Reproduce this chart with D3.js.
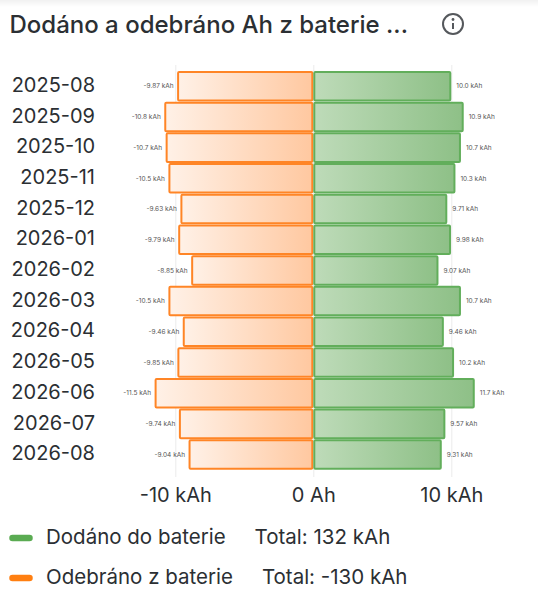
<!DOCTYPE html>
<html>
<head>
<meta charset="utf-8">
<script src="https://cdn.jsdelivr.net/npm/d3@7"></script>
<style>
  html, body { margin: 0; padding: 0; background: #fff; }
  svg { display: block; font-family: Inter, "Noto Sans", sans-serif; }
</style>
</head>
<body>
<script>
const months = ["2025-08","2025-09","2025-10","2025-11","2025-12","2026-01","2026-02","2026-03","2026-04","2026-05","2026-06","2026-07","2026-08"];
const charged = [10.0,10.9,10.7,10.3,9.71,9.98,9.07,10.7,9.46,10.2,11.7,9.57,9.31];
const discharged = [-9.87,-10.8,-10.7,-10.5,-9.63,-9.79,-8.85,-10.5,-9.46,-9.85,-11.5,-9.74,-9.04];
const axisTicks = [-10,0,10];
const legendNames = ["Dodáno do baterie","Odebráno z baterie"];
const legendTotals = ["Total: 132 kAh","Total: -130 kAh"];

const width = 538, height = 600;
const textColor = "#2b2f33";

var svg = d3.select("body").append("svg")
    .attr("width", width)
    .attr("height", height);

var defs = svg.append("defs");

function addGradient(id, stops) {
  var g = defs.append("linearGradient").attr("id", id);
  stops.forEach(function(s, i) {
    g.append("stop").attr("offset", i * 100 + "%").attr("stop-color", s);
  });
}
addGradient("orangeFill", ["#fff1e7", "#ffc8a0"]);
addGradient("greenFill", ["#bedbb9", "#8ec087"]);

// faint shadow at the very top of the card
var shadow = defs.append("linearGradient").attr("id", "topShadow")
    .attr("x1", 0).attr("x2", 0).attr("y1", 0).attr("y2", 1);
shadow.append("stop").attr("offset", "0%").attr("stop-color", "#f1f1f1");
shadow.append("stop").attr("offset", "100%").attr("stop-color", "#fff");
svg.append("rect").attr("width", width).attr("height", 7).attr("fill", "url(#topShadow)");

// title + info icon
svg.append("text")
    .attr("x", 9.5).attr("y", 33)
    .attr("font-size", 24).attr("font-weight", 500)
    .attr("fill", textColor)
    .text("Dodáno a odebráno Ah z baterie ...");

var info = svg.append("g").attr("transform", "translate(453,24)");
info.append("circle").attr("r", 10).attr("fill", "none").attr("stroke", "#55585c").attr("stroke-width", 2);
info.append("circle").attr("cy", -4.5).attr("r", 1.4).attr("fill", "#55585c");
info.append("line").attr("y1", -1).attr("y2", 5).attr("stroke", "#55585c").attr("stroke-width", 2);

// scales
var x = d3.scaleLinear().domain([-10, 10]).range([175.3, 451.3]);
var y = d3.scaleBand().domain(months).range([69.8, 471]).padding(0.07);

// grid + x axis
var xAxis = svg.append("g")
    .attr("transform", "translate(0,477)")
    .call(d3.axisBottom(x)
      .tickValues(axisTicks)
      .tickSize(-412)
      .tickPadding(10.5)
      .tickFormat(function(d) { return d === 0 ? "0 Ah" : d + " kAh"; }));
xAxis.select(".domain").remove();
xAxis.selectAll(".tick line").attr("stroke", "#ececec");
xAxis.selectAll("text")
    .attr("font-size", 20).attr("fill", textColor).attr("font-family", "Inter");

// months
var yAxis = svg.append("g")
    .attr("transform", "translate(95,-0.7)")
    .call(d3.axisLeft(y).tickSize(0).tickPadding(0));
yAxis.select(".domain").remove();
yAxis.selectAll("text")
    .attr("font-size", 20).attr("fill", textColor).attr("font-family", "Inter");

var fmt = d3.format(".3r");
function label(v) { return fmt(v).replace("\u2212", "-") + " kAh"; }

// bars: orange to the left, green to the right
function drawBars(values, fill, stroke, side) {
  var g = svg.append("g");
  g.selectAll("rect").data(values).enter().append("rect")
      .attr("x", function(d) { return Math.min(x(0), x(d)) + 1; })
      .attr("y", function(d, i) { return y(months[i]); })
      .attr("width", function(d) { return Math.abs(x(d) - x(0)) - 2; })
      .attr("height", y.bandwidth())
      .attr("rx", 1)
      .attr("fill", fill)
      .attr("stroke", stroke)
      .attr("stroke-width", 2);
  g.selectAll("text").data(values).enter().append("text")
      .attr("x", function(d) { return x(d) + (side > 0 ? 5 : -3.5); })
      .attr("y", function(d, i) { return y(months[i]) + y.bandwidth() / 2; })
      .attr("dy", "0.35em")
      .attr("text-anchor", side > 0 ? "start" : "end")
      .attr("font-size", 6.5)
      .attr("fill", "#555")
      .text(label);
}
drawBars(discharged, "url(#orangeFill)", "#ff8526", -1);
drawBars(charged, "url(#greenFill)", "#62ae5b", 1);

// legend
var legendColors = ["#5aab52", "#ff7f11"];
var legendY = d3.scalePoint().domain(legendNames).range([538, 578]);
legendNames.forEach(function(name, i) {
  var row = svg.append("g").attr("transform", "translate(0," + legendY(name) + ")");
  row.append("line")
      .attr("x1", 12.5).attr("x2", 29.5)
      .attr("stroke", legendColors[i]).attr("stroke-width", 6.5)
      .attr("stroke-linecap", "round");
  var t = row.append("text")
      .attr("x", 46).attr("y", -1).attr("dy", "0.35em")
      .attr("font-size", 20.5).attr("fill", textColor)
      .text(name);
  row.append("text")
      .attr("x", 46 + t.node().getComputedTextLength() + 29).attr("y", -1).attr("dy", "0.35em")
      .attr("font-size", 20.5).attr("fill", textColor)
      .text(legendTotals[i]);
});
</script>
</body>
</html>
